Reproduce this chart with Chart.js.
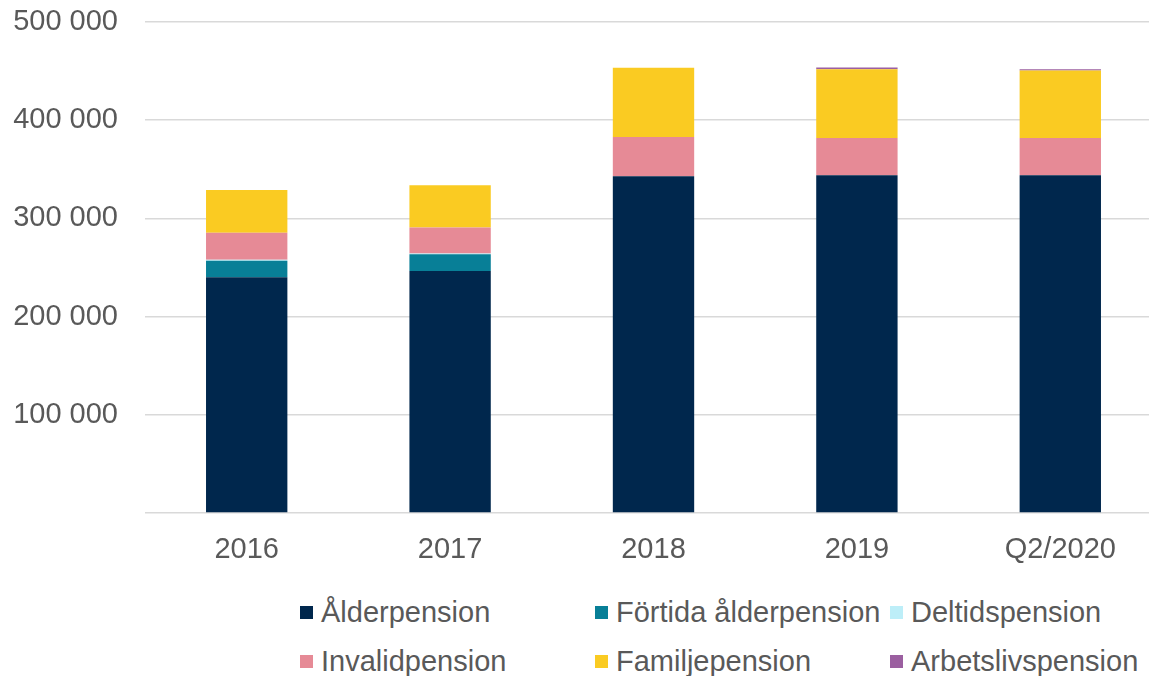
<!DOCTYPE html>
<html>
<head>
<meta charset="utf-8">
<script src="https://cdn.jsdelivr.net/npm/chart.js@4"></script>
<style>
    html, body { margin: 0; padding: 0; background: #fff; overflow: hidden; }
    #wrap { position: relative; width: 1149px; height: 676px; overflow: hidden; }
    #legend {
        position: absolute; left: 300px; top: 596px;
        display: grid; grid-template-columns: 295px 295px 295px; row-gap: 16px;
        font-family: "Liberation Sans", Arial, sans-serif; font-size: 29px; color: #595959;
    }
    #legend .item { display: flex; align-items: center; white-space: nowrap; height: 33px; }
    #legend .box { width: 13px; height: 13px; margin-right: 8px; flex: none; }
</style>
</head>
<body>
<div id="wrap">
    <canvas id="chart" width="1162" height="590"></canvas>
    <div id="legend"></div>
</div>
<script>
const LABELS = ['2016', '2017', '2018', '2019', 'Q2/2020'];

const SERIES_NAMES = ['Ålderpension', 'Förtida ålderpension', 'Deltidspension', 'Invalidpension', 'Familjepension', 'Arbetslivspension'];
const SERIES_COLORS = ['#00274d', '#087f97', '#bdeef8', '#e68a96', '#facb22', '#9b5fa0'];

const alderpension = [240000, 246500, 343000, 344000, 344000];
const fortidaAlderpension = [17000, 17000, 0, 0, 0];
const deltidspension = [1000, 800, 0, 0, 0];
const invalidpension = [27500, 26500, 40000, 38000, 38000];
const familjepension = [43500, 43000, 70500, 70000, 68500];
const arbetslivspension = [0, 0, 0, 1700, 1500];

const SERIES_VALUES = [alderpension, fortidaAlderpension, deltidspension, invalidpension, familjepension, arbetslivspension];

const FONT = { family: '"Liberation Sans", Arial, sans-serif', size: 29 };
const TEXT_COLOR = '#595959';
const GRID_COLOR = '#d9d9d9';

drawChart('#chart');
drawLegend('#legend');

function drawChart(selector) {
    const ctx = document.querySelector(selector);

    const datasets = SERIES_NAMES.map((name, i) => ({
        label: name,
        data: SERIES_VALUES[i],
        backgroundColor: SERIES_COLORS[i],
        borderWidth: 0,
        barPercentage: 0.4,
        categoryPercentage: 1
    }));

    new Chart(ctx, {
        type: 'bar',
        data: { labels: LABELS, datasets: datasets },
        options: {
            responsive: false,
            animation: false,
            layout: { padding: { top: 22, left: 0, right: 0, bottom: 0 } },
            plugins: {
                legend: { display: false },
                tooltip: { enabled: false }
            },
            scales: {
                x: {
                    stacked: true,
                    grid: { display: false, drawTicks: false },
                    border: { display: false },
                    ticks: { font: FONT, color: TEXT_COLOR, padding: 20, maxRotation: 0 },
                    afterFit: s => {
                        s.height = 77;
                        s.paddingLeft = 0;
                        s.paddingRight = 0;
                    }
                },
                y: {
                    stacked: true,
                    min: 0,
                    max: 500000,
                    grid: { color: GRID_COLOR, lineWidth: 1.5, drawTicks: false },
                    border: { display: false },
                    ticks: {
                        stepSize: 100000,
                        font: FONT,
                        color: TEXT_COLOR,
                        padding: 27,
                        callback: v => v === 0 ? '' : (v / 1000) + ' 000'
                    },
                    afterFit: s => {
                        s.width = 145;
                        s.paddingTop = 0;
                        s.paddingBottom = 0;
                    }
                }
            }
        }
    });
}

function drawLegend(selector) {
    const $legend = document.querySelector(selector);
    SERIES_NAMES.forEach((name, i) => {
        const $item = document.createElement('div');
        $item.className = 'item';
        const $box = document.createElement('span');
        $box.className = 'box';
        $box.style.background = SERIES_COLORS[i];
        const $text = document.createElement('span');
        $text.textContent = name;
        $item.append($box, $text);
        $legend.append($item);
    });
}
</script>
</body>
</html>
